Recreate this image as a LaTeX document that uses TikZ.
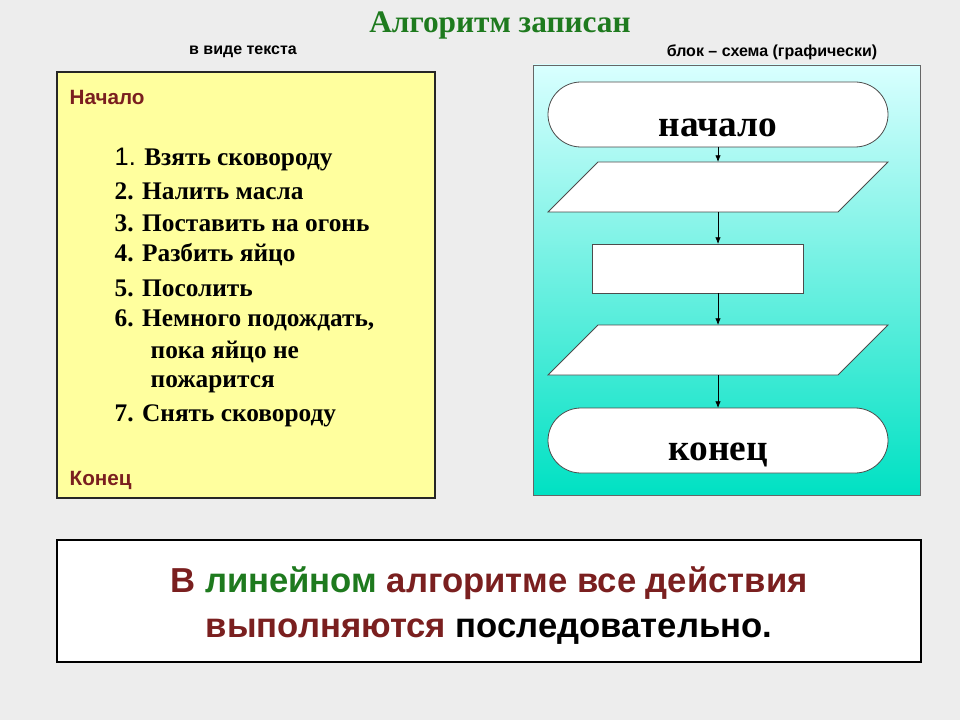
\documentclass[tikz,border=0pt]{standalone}
\usepackage{fontspec}
\setmainfont{Liberation Serif}
\setsansfont{Liberation Sans}
\usetikzlibrary{shapes.geometric,arrows.meta}
\definecolor{dred}{HTML}{7A1F1F}
\definecolor{dgreen}{HTML}{1E7A1E}
\definecolor{ylw}{HTML}{FFFF9E}
\definecolor{bg}{HTML}{EDEDED}
\tikzset{
 item/.style={anchor=west,font=\fontsize{19}{22}\selectfont\bfseries},
 head/.style={font=\sffamily\bfseries\fontsize{12}{14}\selectfont},
 flow/.style={draw=black!70,fill=white,line width=0.6pt},
 arr/.style={-{Latex[length=5pt,width=4pt]},line width=0.5pt},
 big/.style={font=\sffamily\bfseries\fontsize{26}{30}\selectfont},
}
\begin{document}
\begin{tikzpicture}[x=0.75pt,y=-0.75pt]
\useasboundingbox (0,0) rectangle (960,720);
\fill[bg] (0,0) rectangle (960,720);
\node[font=\fontsize{23.5}{27}\selectfont\bfseries,text=dgreen] (title) at (500,25) {Алгоритм записан};
\node[head] (h1) at (243,52) {в виде текста};
\node[head] (h2) at (772,52) {блок – схема (графически)};
% yellow box
\draw[fill=ylw,draw=black!85,line width=1.5pt] (57,72) rectangle (435,498);
\node[anchor=west,font=\sffamily\bfseries\fontsize{15.5}{18}\selectfont,text=dred] (beg) at (65,97) {Начало};
\node[item] (i1) at (110,160) {{\sffamily\mdseries 1.} Взять сковороду};
\node[item] (i2) at (110,191) {2. Налить масла};
\node[item] (i3) at (110,223) {3. Поставить на огонь};
\node[item] (i4) at (110,255) {4. Разбить яйцо};
\node[item] (i5) at (110,288) {5. Посолить};
\node[item] (i6) at (110,320) {6. Немного подождать,};
\node[item] (i6b) at (146,352) {пока яйцо не};
\node[item] (i6c) at (146,384) {пожарится};
\node[item] (i7) at (110,416) {7. Снять сковороду};
\node[anchor=west,font=\sffamily\bfseries\fontsize{15.5}{18}\selectfont,text=dred] (end) at (65,480) {Конец};
% cyan box
\shade[top color=cyan!15,bottom color={rgb,255:red,0;green,225;blue,195}] (533,65) rectangle (920,495);
\draw[black!60,line width=0.6pt] (533,65) rectangle (920,495);
\draw[flow] (581,82) -- (855,82) arc[start angle=90,end angle=-90,x radius=33,y radius=-32.5] -- (581,147) arc[start angle=270,end angle=90,x radius=33,y radius=-32.5] -- cycle;
\node[font=\fontsize{28}{32}\selectfont\bfseries] (s) at (718,128) {начало};
\coordinate (sb) at (718,147);
\draw[flow] (598,162) -- (888,162) -- (838,212) -- (548,212) -- cycle;
\coordinate (p1t) at (718,162); \coordinate (p1b) at (718,212);
\draw[flow] (592,244) rectangle (803,293);
\coordinate (rt) at (718,244); \coordinate (rb) at (718,293);
\draw[flow] (598,325) -- (888,325) -- (838,375) -- (548,375) -- cycle;
\coordinate (p2t) at (718,325); \coordinate (p2b) at (718,375);
\draw[flow] (581,408) -- (855,408) arc[start angle=90,end angle=-90,x radius=33,y radius=-32.5] -- (581,473) arc[start angle=270,end angle=90,x radius=33,y radius=-32.5] -- cycle;
\node[font=\fontsize{28}{32}\selectfont\bfseries] (e) at (718,455) {конец};
\coordinate (et) at (718,408);
\draw[arr] (sb) -- (p1t);
\draw[arr] (p1b) -- (rt);
\draw[arr] (rb) -- (p2t);
\draw[arr] (p2b) -- (et);
% bottom box
\draw[fill=white,line width=2pt] (57,540) rectangle (921,662);
\node[big,text=dred] (l1) at (489,583) {В \textcolor{dgreen}{линейном} алгоритме все действия};
\node[big,text=dred] (l2) at (489,632) {выполняются \textcolor{black}{последовательно.}};
\end{tikzpicture}
\end{document}
